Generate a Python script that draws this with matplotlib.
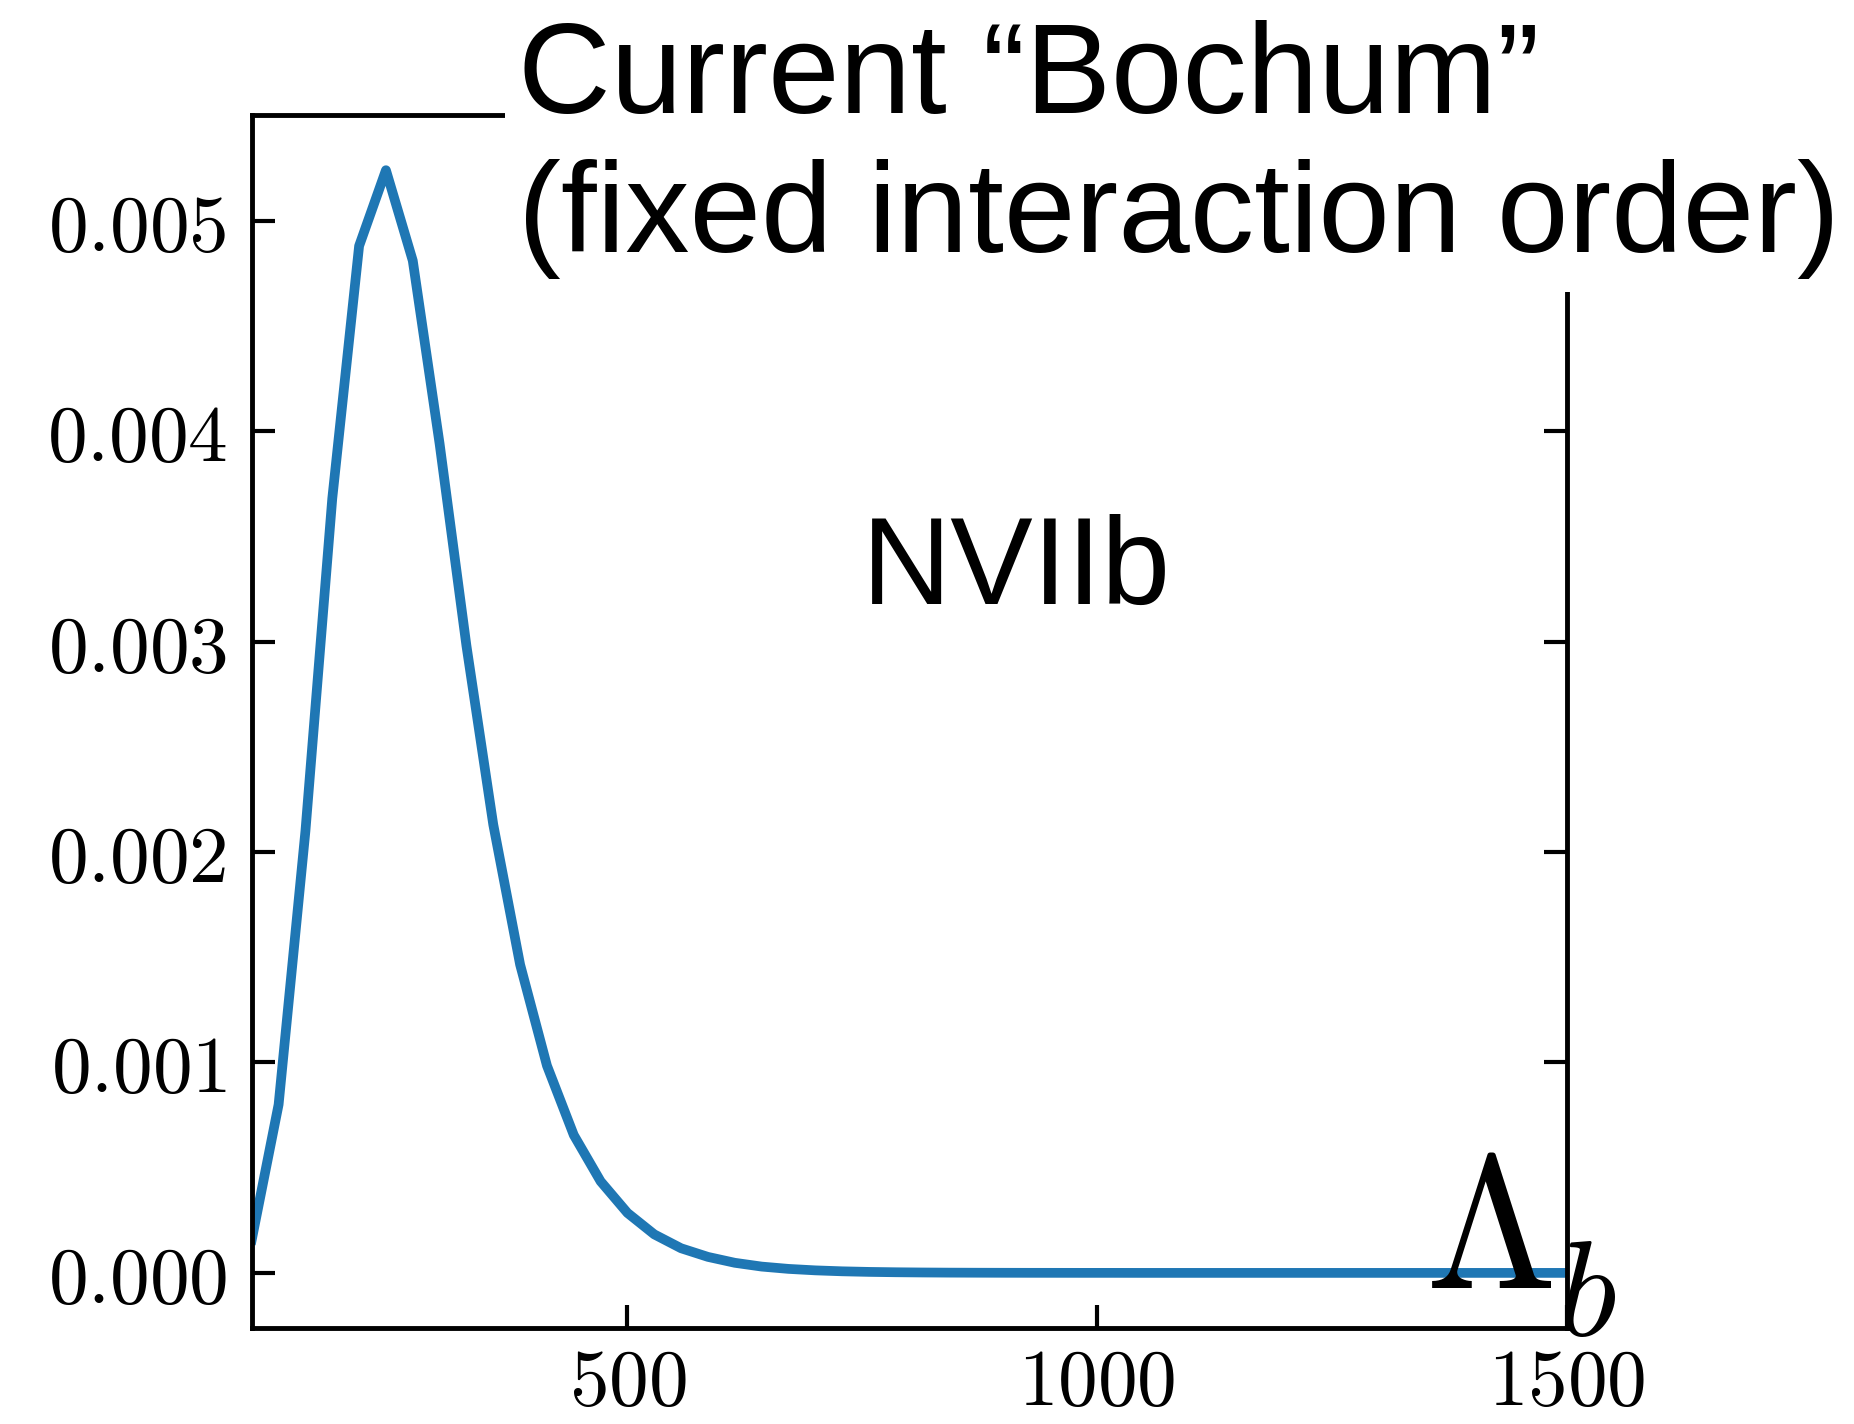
import numpy as np
import matplotlib
matplotlib.use("Agg")
import matplotlib.pyplot as plt
from matplotlib.ticker import FuncFormatter

plt.rcParams['mathtext.fontset'] = 'cm'

# cutoff grid and regulator weight
lam = np.linspace(100, 1500, 50)
weight = np.array([
    0.158, 0.800, 2.100, 3.680, 4.880, 5.240, 4.810, 3.940, 2.980, 2.130,
    1.465, 0.985, 0.655, 0.435, 0.285, 0.183, 0.117, 0.076, 0.048, 0.030,
    0.019, 0.012, 0.0075, 0.0047, 0.0030, 0.0019, 0.0012, 0.0008, 0.0005, 0.0003,
    0.0002, 0.0001, 0.0001, 0.0, 0.0, 0.0, 0.0, 0.0, 0.0, 0.0,
    0.0, 0.0, 0.0, 0.0, 0.0, 0.0, 0.0, 0.0, 0.0, 0.0,
]) * 1e-3

x_ticks = [500, 1000, 1500]
y_ticks = [0.000, 0.001, 0.002, 0.003, 0.004, 0.005]

fig = plt.figure(figsize=(18.54, 14.24), dpi=100)
ax = fig.add_axes([0.1358, 0.0674, 0.7092, 0.8518])

ax.plot(lam, weight, color='#1f77b4', lw=7)

ax.set_xlim(100, 1500)
ax.set_xticks(x_ticks)
ax.set_yticks(y_ticks)
ax.xaxis.set_major_formatter(FuncFormatter(lambda v, p: r'$%d$' % v))
ax.yaxis.set_major_formatter(FuncFormatter(lambda v, p: r'$%.3f$' % v))

for s in ax.spines.values():
    s.set_linewidth(3.5)
ax.tick_params(direction='in', length=16.5, width=3, labelsize=57,
               right=True, top=False, pad=18)
ax.tick_params(axis='x', pad=12)

ax.text(0.4637, 0.597, 'NVIIb', transform=ax.transAxes, fontsize=89,
        family='Liberation Sans', ha='left', va='baseline')

# Lambda_b, with the subscript set a little lower than mathtext does
fig.text(0.7686, 0.0955, r'$\Lambda$', fontsize=136, ha='left', va='baseline')
fig.text(0.8405, 0.0625, r'$b$', fontsize=97, ha='left', va='baseline')

fig.text(0.2795, 0.823, 'Current \u201cBochum\u201d\n(fixed interaction order)',
         fontsize=92.5, family='Liberation Sans', ha='left', va='baseline',
         linespacing=1.2, zorder=5,
         bbox=dict(facecolor='white', edgecolor='none', boxstyle='square,pad=0.1'))

fig.savefig('out.png', dpi=100)
